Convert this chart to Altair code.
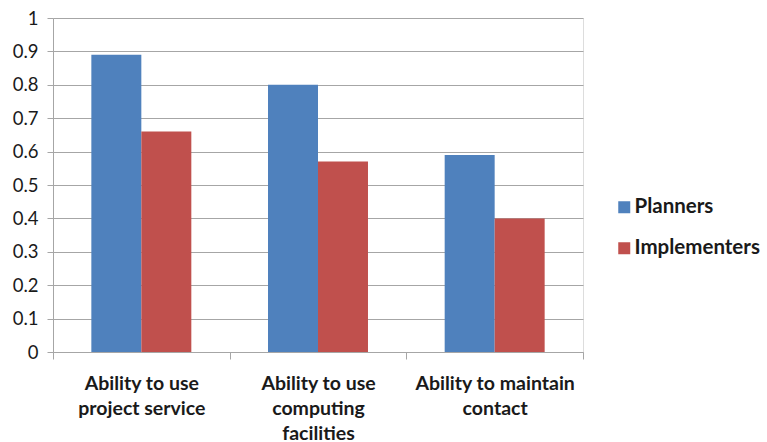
import altair as alt
import pandas as pd

# Skill ratings by group
categories = [
    "Ability to use\nproject service",
    "Ability to use\ncomputing\nfacilities",
    "Ability to maintain\ncontact",
]
groups = ["Planners", "Implementers"]
planners = [0.89, 0.80, 0.59]
implementers = [0.66, 0.57, 0.40]
colors = ["#4F81BD", "#C0504D"]

rows = []
for cat, p, i in zip(categories, planners, implementers):
    rows.append({"category": cat, "group": "Planners", "value": p})
    rows.append({"category": cat, "group": "Implementers", "value": i})
df = pd.DataFrame(rows)

FONT = "Lato"
GRID = "#A6A6A6"

chart = (
    alt.Chart(df)
    .mark_bar()
    .encode(
        x=alt.X(
            "category:N",
            sort=categories,
            title=None,
            scale=alt.Scale(paddingInner=0, paddingOuter=0),
            axis=alt.Axis(
                labelAngle=0,
                labelExpr="split(datum.label, '\\n')",
                labelFont=FONT,
                labelFontSize=19.5,
                labelFontWeight="bold",
                labelColor="#1a1a1a",
                labelLineHeight=25,
                labelPadding=24,
                labelBaseline="middle",
                tickBand="extent",
                tickSize=7,
                tickColor=GRID,
                domainColor=GRID,
                grid=False,
            ),
        ),
        xOffset=alt.XOffset(
            "group:N",
            sort=groups,
            scale=alt.Scale(paddingInner=0, paddingOuter=0.767),
        ),
        y=alt.Y(
            "value:Q",
            title=None,
            scale=alt.Scale(domain=[0, 1], nice=False),
            axis=alt.Axis(
                values=[i / 10 for i in range(11)],
                labelExpr="datum.value == 0 ? '0' : datum.value == 1 ? '1' : format(datum.value, '.1f')",
                labelFont=FONT,
                labelFontSize=18.5,
                labelColor="#1a1a1a",
                labelPadding=9,
                tickSize=6,
                tickColor=GRID,
                domainColor=GRID,
                gridColor=GRID,
                gridWidth=1,
            ),
        ),
        color=alt.Color(
            "group:N",
            sort=groups,
            scale=alt.Scale(domain=groups, range=colors),
            legend=alt.Legend(
                title=None,
                orient="none",
                legendX=561,
                legendY=179,
                symbolType="square",
                symbolSize=144,
                symbolStrokeWidth=0,
                labelFont=FONT,
                labelFontSize=20.5,
                labelFontWeight="bold",
                labelColor="#1a1a1a",
                rowPadding=20,
                labelOffset=0,
            ),
        ),
    )
    .properties(
        width=530,
        height=334,
        autosize=alt.AutoSizeParams(type="none"),
        padding={"left": 53, "top": 18, "right": 184, "bottom": 90},
    )
    .configure_view(stroke=None)
    .configure(background="white")
)

chart.save("out.html", embed_options={"renderer": "svg", "actions": False})
